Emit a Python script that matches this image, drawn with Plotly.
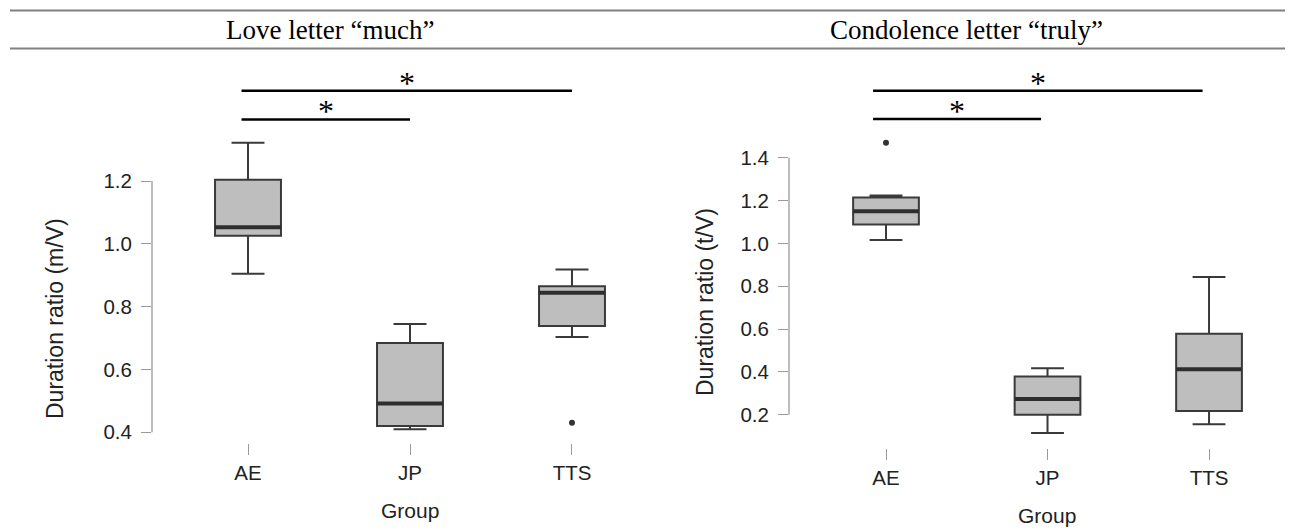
import plotly.graph_objects as go

# ---------------- data ----------------
groups = ["AE", "JP", "TTS"]

titles = ["Love letter \u201cmuch\u201d", "Condolence letter \u201ctruly\u201d"]
y_titles = ["Duration ratio (m/V)", "Duration ratio (t/V)"]
x_title = "Group"

# Love letter "much"
love_lower = [0.905, 0.410, 0.703]
love_q1 = [1.026, 0.420, 0.738]
love_median = [1.053, 0.492, 0.844]
love_q3 = [1.204, 0.684, 0.865]
love_upper = [1.322, 0.745, 0.918]
love_outlier_group = [2]
love_outlier_value = [0.430]

# Condolence letter "truly"
cond_lower = [1.016, 0.114, 0.155]
cond_q1 = [1.088, 0.200, 0.217]
cond_median = [1.150, 0.273, 0.412]
cond_q3 = [1.214, 0.378, 0.578]
cond_upper = [1.223, 0.417, 0.843]
cond_outlier_group = [0]
cond_outlier_value = [1.470]

love_ticks = [0.4, 0.6, 0.8, 1.0, 1.2]
cond_ticks = [0.2, 0.4, 0.6, 0.8, 1.0, 1.2, 1.4]

# significance comparisons (group index pairs) and bracket heights
sig_pairs = [(0, 2), (0, 1)]
love_sig_levels = [1.4875, 1.396]
cond_sig_levels = [1.713, 1.581]
sig_label = "*"

# ---------------- figure ----------------
PAGE_W, PAGE_H = 1293, 531
OFF = 8  # default body margin of the page
W, H = PAGE_W - OFF, PAGE_H - OFF


def px(x):
    return (x - OFF) / W


def py(y):
    return 1 - (y - OFF) / H


BOX_W = 0.407
BOX_FILL = "#bebebe"
BOX_LINE = "#3a3a3a"
AXIS_GRAY = "#9a9a9a"
SANS = "Liberation Sans, Arial, sans-serif"
SERIF = "Liberation Serif, Times New Roman, serif"

fig = go.Figure()

panels = [
    dict(xa="x", ya="y", lower=love_lower, q1=love_q1, med=love_median, q3=love_q3,
         upper=love_upper, og=love_outlier_group, ov=love_outlier_value,
         sig=love_sig_levels, sig_off=(-0.04, 0.0)),
    dict(xa="x2", ya="y2", lower=cond_lower, q1=cond_q1, med=cond_median, q3=cond_q3,
         upper=cond_upper, og=cond_outlier_group, ov=cond_outlier_value,
         sig=cond_sig_levels, sig_off=(-0.08, -0.04)),
]

pos = list(range(len(groups)))
shapes = []
annotations = []

for p in panels:
    fig.add_trace(go.Box(
        x=pos, q1=p["q1"], median=p["med"], q3=p["q3"],
        lowerfence=p["lower"], upperfence=p["upper"],
        width=BOX_W, whiskerwidth=0.5, fillcolor=BOX_FILL,
        line=dict(color=BOX_LINE, width=2), boxpoints=False,
        showlegend=False, hoverinfo="skip", xaxis=p["xa"], yaxis=p["ya"]))
    # thick median lines
    mx, my = [], []
    for i, m in zip(pos, p["med"]):
        mx += [i - BOX_W / 2, i + BOX_W / 2, None]
        my += [m, m, None]
    fig.add_trace(go.Scatter(x=mx, y=my, mode="lines",
                             line=dict(color="#2e2e2e", width=4),
                             showlegend=False, hoverinfo="skip",
                             xaxis=p["xa"], yaxis=p["ya"]))
    # outliers
    fig.add_trace(go.Scatter(x=p["og"], y=p["ov"], mode="markers",
                             marker=dict(color="#333333", size=6),
                             showlegend=False, hoverinfo="skip",
                             xaxis=p["xa"], yaxis=p["ya"]))
    # significance brackets
    for (a, b), lvl in zip(sig_pairs, p["sig"]):
        x0 = a + p["sig_off"][0]
        x1 = b + p["sig_off"][1]
        shapes.append(dict(type="line", xref=p["xa"], yref=p["ya"],
                           x0=x0, x1=x1, y0=lvl, y1=lvl,
                           line=dict(color="black", width=2.5)))
        annotations.append(dict(x=(x0 + x1) / 2, y=lvl, xref=p["xa"], yref=p["ya"],
                                text=sig_label, showarrow=False, yanchor="middle",
                                yshift=8, font=dict(family=SERIF, size=32, color="black")))

# R-style y axis lines (spanning the tick range only)
shapes.append(dict(type="line", xref="x domain", yref="y", x0=0, x1=0,
                   y0=love_ticks[0], y1=love_ticks[-1], line=dict(color=AXIS_GRAY, width=1.3)))
shapes.append(dict(type="line", xref="x2 domain", yref="y2", x0=0, x1=0,
                   y0=cond_ticks[0], y1=cond_ticks[-1], line=dict(color=AXIS_GRAY, width=1.3)))

# table-like header lines
for yy in (10.5, 48.5):
    shapes.append(dict(type="line", xref="paper", yref="paper",
                       x0=px(10), x1=px(1290), y0=py(yy), y1=py(yy),
                       line=dict(color="#808080", width=2)))

# panel titles
for t, cx in zip(titles, (330, 966)):
    annotations.append(dict(x=px(cx), y=py(30), xref="paper", yref="paper",
                            text=t, showarrow=False, xanchor="center", yanchor="middle",
                            font=dict(family=SERIF, size=27, color="black")))

# y-axis titles
for t, cx, cy in zip(y_titles, (55, 705), (319, 302)):
    annotations.append(dict(x=px(cx), y=py(cy), xref="paper", yref="paper",
                            text=t, showarrow=False, textangle=-90,
                            xanchor="center", yanchor="middle",
                            font=dict(family=SANS, size=23, color="#222222")))

# x-axis titles
for cx, cy in ((410, 510), (1047, 515)):
    annotations.append(dict(x=px(cx), y=py(cy), xref="paper", yref="paper",
                            text=x_title, showarrow=False,
                            xanchor="center", yanchor="middle",
                            font=dict(family=SANS, size=21, color="#222222")))

common_x = dict(tickmode="array", tickvals=pos, ticktext=groups, ticks="outside",
                ticklen=11, tickwidth=1.2, tickcolor=AXIS_GRAY, showline=False,
                showgrid=False, zeroline=False,
                tickfont=dict(family=SANS, size=20.5, color="#222222"))
common_y = dict(tickmode="array", ticks="outside", ticklen=10, tickwidth=1.2,
                tickcolor=AXIS_GRAY, showline=False, showgrid=False, zeroline=False,
                ticklabelstandoff=5,
                tickfont=dict(family=SANS, size=20.5, color="#222222"))

fig.update_layout(
    width=W, height=H, autosize=False,
    margin=dict(l=0, r=0, t=0, b=0, pad=0),
    paper_bgcolor="white", plot_bgcolor="white",
    xaxis=dict(domain=[px(152), px(640)], range=[-0.5926, 2.4198], anchor="y", **common_x),
    yaxis=dict(domain=[py(443), py(60)], range=[0.3659, 1.5852], anchor="x",
               tickvals=love_ticks, ticktext=[f"{v:.1f}" for v in love_ticks], **common_y),
    xaxis2=dict(domain=[px(789), px(1283)], range=[-0.6006, 2.458], anchor="y2", **common_x),
    yaxis2=dict(domain=[py(448), py(60)], range=[0.0445, 1.8562], anchor="x2",
                tickvals=cond_ticks, ticktext=[f"{v:.1f}" for v in cond_ticks], **common_y),
    shapes=shapes, annotations=annotations,
)

fig.write_html("out.html")
